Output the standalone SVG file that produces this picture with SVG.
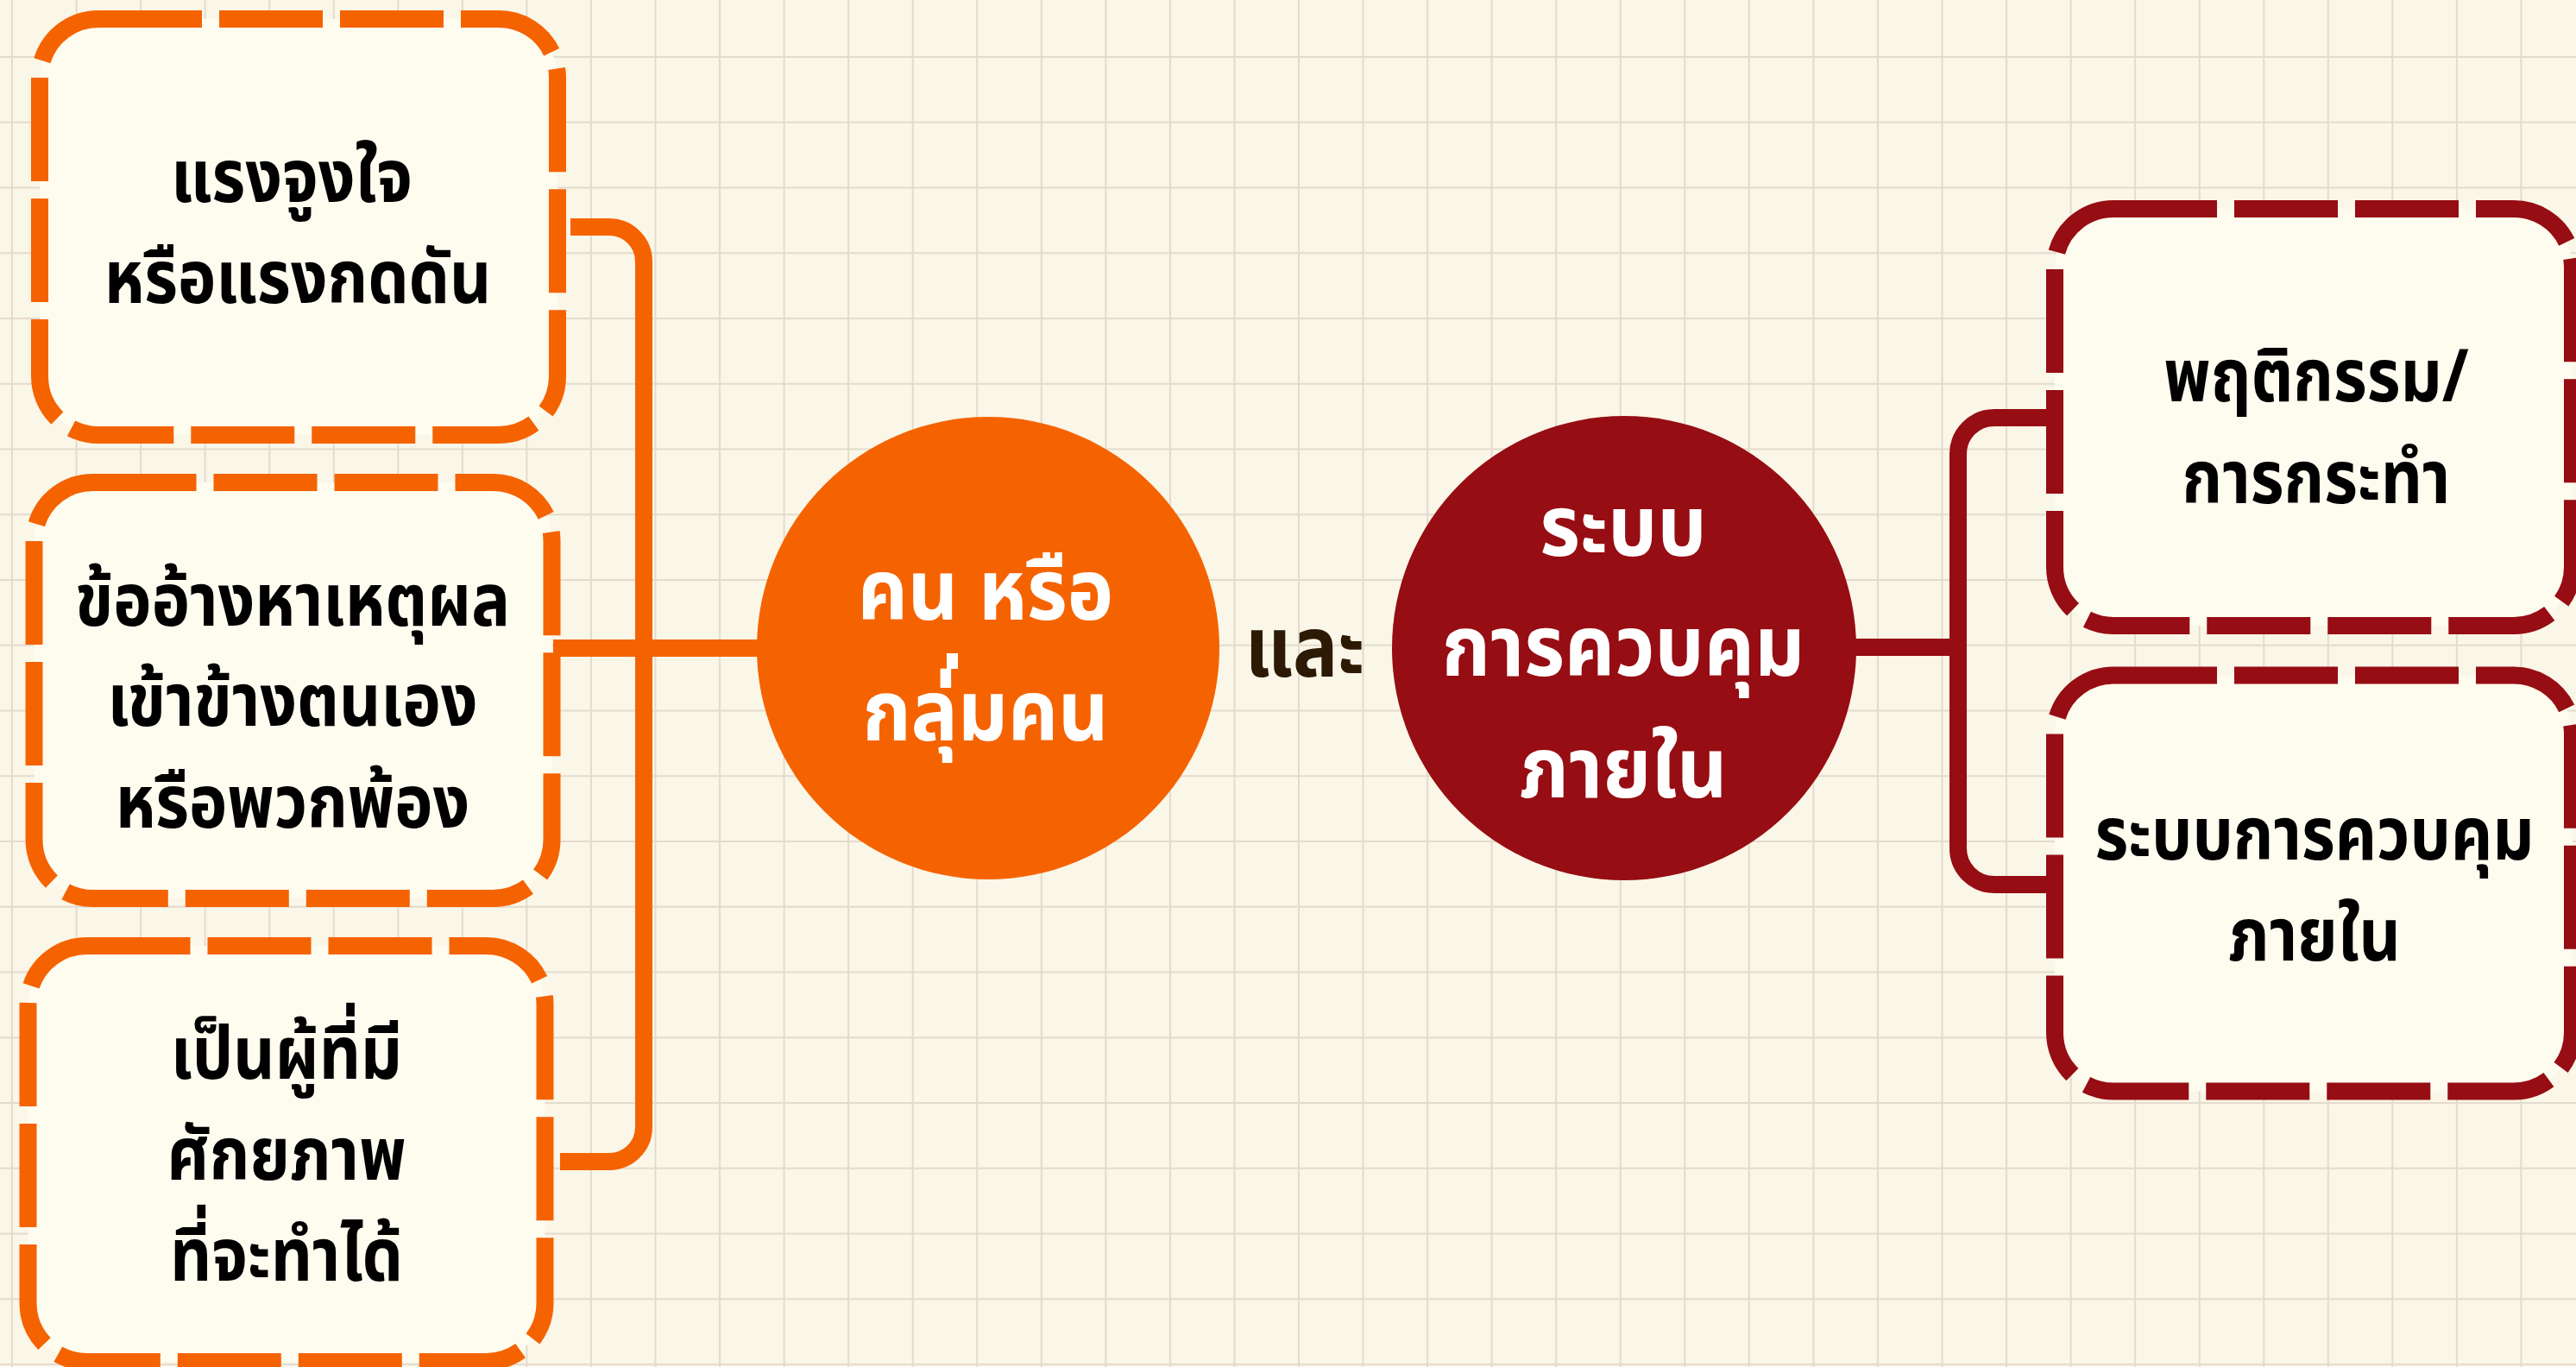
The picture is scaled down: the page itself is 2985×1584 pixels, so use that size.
<svg xmlns="http://www.w3.org/2000/svg" width="2985" height="1584" viewBox="0 0 2985 1584">
<style>
.grid{stroke:#e4dbcd;stroke-width:2;fill:none}
.box-o{fill:#fefbef;stroke:#f56301;stroke-width:20;stroke-dasharray:120 20}
.box-r{fill:#fefbef;stroke:#960d13;stroke-width:20;stroke-dasharray:120 20}
.conn-o{fill:none;stroke:#f56301;stroke-width:20}
.conn-r{fill:none;stroke:#960d13;stroke-width:20}
.t{font-family:'Noto Sans Thai','Noto Sans','DejaVu Sans',sans-serif;font-weight:700;text-anchor:middle}
.tb{font-size:85px;fill:#000}
.tc{font-size:97px;fill:#fff}
</style>
<rect width="2985" height="1584" fill="#faf6e8"/>
<g id="grid">
<path class="grid" d="M14 0V1584M88.55 0V1584M163.1 0V1584M237.65 0V1584M312.2 0V1584M386.75 0V1584M461.3 0V1584M535.85 0V1584M610.4 0V1584M684.95 0V1584M759.5 0V1584M834.05 0V1584M908.6 0V1584M983.15 0V1584M1057.7 0V1584M1132.25 0V1584M1206.8 0V1584M1281.35 0V1584M1355.9 0V1584M1430.45 0V1584M1505 0V1584M1579.55 0V1584M1654.1 0V1584M1728.65 0V1584M1803.2 0V1584M1877.75 0V1584M1952.3 0V1584M2026.85 0V1584M2101.4 0V1584M2175.95 0V1584M2250.5 0V1584M2325.05 0V1584M2399.6 0V1584M2474.15 0V1584M2548.7 0V1584M2623.25 0V1584M2697.8 0V1584M2772.35 0V1584M2846.9 0V1584M2921.45 0V1584"/>
<path class="grid" d="M0 66H2985M0 141.75H2985M0 217.5H2985M0 293.25H2985M0 369H2985M0 444.75H2985M0 520.5H2985M0 596.25H2985M0 672H2985M0 747.75H2985M0 823.5H2985M0 899.25H2985M0 975H2985M0 1050.75H2985M0 1126.5H2985M0 1202.25H2985M0 1278H2985M0 1353.75H2985M0 1429.5H2985M0 1505.25H2985M0 1581H2985"/>
</g>
<g id="connectors">
<path class="conn-o" d="M661 263H706A40 40 0 0 1 746 303V1306A40 40 0 0 1 706 1346H649"/>
<path class="conn-o" d="M641 751H880"/>
<path class="conn-r" d="M2148 750H2269"/>
<path class="conn-r" d="M2371 484H2311A42 42 0 0 0 2269 526V983A42 42 0 0 0 2311 1025H2371"/>
</g>
<g id="box1">
<rect class="box-o" x="46" y="22" width="600" height="482" rx="68"/>
<text class="t tb" transform="translate(338 0) scale(0.88 1)" x="0" y="234">แรงจูงใจ</text>
<text class="t tb" transform="translate(345 0) scale(0.88 1)" x="0" y="351">หรือแรงกดดัน</text>
</g>
<g id="box2">
<rect class="box-o" x="39.5" y="559" width="600" height="482" rx="68"/>
<text class="t tb" transform="translate(339 0) scale(0.88 1)" x="0" y="725">ข้ออ้างหาเหตุผล</text>
<text class="t tb" transform="translate(339 0) scale(0.88 1)" x="0" y="841">เข้าข้างตนเอง</text>
<text class="t tb" transform="translate(339 0) scale(0.88 1)" x="0" y="959">หรือพวกพ้อง</text>
</g>
<g id="box3">
<rect class="box-o" x="32.5" y="1096" width="599" height="482" rx="68"/>
<text class="t tb" transform="translate(332 0) scale(0.88 1)" x="0" y="1250">เป็นผู้ที่มี</text>
<text class="t tb" transform="translate(332 0) scale(0.88 1)" x="0" y="1367">ศักยภาพ</text>
<text class="t tb" transform="translate(332 0) scale(0.88 1)" x="0" y="1484">ที่จะทำได้</text>
</g>
<g id="circle-person">
<circle cx="1145" cy="751" r="268" fill="#f56301"/>
<text class="t tc" transform="translate(1142 0) scale(0.93 1)" x="0" y="718">คน หรือ</text>
<rect x="1097" y="757" width="13" height="18" fill="#fff"/>
<text class="t tc" transform="translate(1142 0) scale(0.93 1)" x="0" y="858">กลุ่มคน</text>
</g>
<g id="and-label">
<text class="t" transform="translate(1512 0) scale(0.9 1)" x="0" y="784" font-size="97" fill="#2d1a04">และ</text>
</g>
<g id="circle-control">
<circle cx="1882" cy="751" r="269" fill="#960d13"/>
<text class="t tc" transform="translate(1881 0) scale(0.93 1)" x="0" y="644">ระบบ</text>
<text class="t tc" transform="translate(1881 0) scale(0.93 1)" x="0" y="783">การควบคุม</text>
<text class="t tc" transform="translate(1881 0) scale(0.93 1)" x="0" y="924">ภายใน</text>
</g>
<g id="boxA">
<rect class="box-r" x="2381" y="242" width="600" height="483" rx="68"/>
<text class="t tb" transform="translate(2684 0) scale(0.88 1)" x="0" y="465">พฤติกรรม/</text>
<text class="t tb" transform="translate(2684 0) scale(0.88 1)" x="0" y="583">การกระทำ</text>
</g>
<g id="boxB">
<rect class="box-r" x="2381" y="782.5" width="600" height="482" rx="68"/>
<text class="t tb" transform="translate(2682 0) scale(0.88 1)" x="0" y="996">ระบบการควบคุม</text>
<text class="t tb" transform="translate(2682 0) scale(0.88 1)" x="0" y="1113">ภายใน</text>
</g>
</svg>
